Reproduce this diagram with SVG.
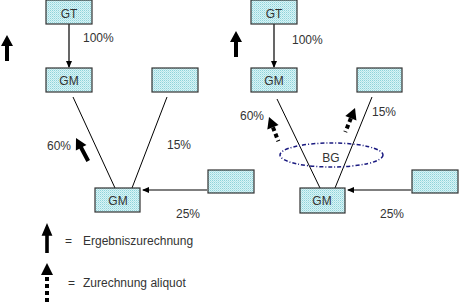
<svg xmlns="http://www.w3.org/2000/svg" width="459" height="303" viewBox="0 0 459 303">
<defs>
<pattern id="dots" width="2" height="2" patternUnits="userSpaceOnUse">
<rect width="2" height="2" fill="#d8f4f6"/>
<rect width="1" height="1" fill="#8fd3da"/>
<rect x="1" y="1" width="1" height="1" fill="#b5e3e8"/>
</pattern>
<marker id="ah" markerWidth="7" markerHeight="6" refX="6" refY="3" orient="auto" markerUnits="userSpaceOnUse">
<path d="M0,0 L7,3 L0,6 Z" fill="#000"/>
</marker>
<g id="solidArrow">
<path d="M0,0 L6,11 L2,11 L2,26 L-2,26 L-2,11 L-6,11 Z" fill="#000"/>
</g>
<g id="dashArrow">
<path d="M0,0 L6,11 L-6,11 Z" fill="#000"/>
<line x1="0" y1="11" x2="0" y2="26" stroke="#000" stroke-width="4" stroke-dasharray="4 3"/>
</g>
</defs>
<style>
.box{fill:url(#dots);stroke:#333;stroke-width:1.2}
.t{font-family:"Liberation Sans",Arial,sans-serif;font-size:12px;fill:#333}
.c{text-anchor:middle}
.ln{stroke:#000;stroke-width:1;fill:none}
.ar{stroke:#000;stroke-width:1.2;fill:none;marker-end:url(#ah)}
</style>

<g id="connectors">
<line class="ar" x1="69" y1="24" x2="69" y2="67"/>
<line class="ln" x1="73" y1="97" x2="115" y2="188"/>
<line class="ln" x1="167" y1="97" x2="132" y2="188"/>
<line class="ar" x1="207" y1="190" x2="143" y2="190"/>
<line class="ar" x1="274" y1="24" x2="274" y2="67"/>
<line class="ln" x1="277" y1="99" x2="320" y2="188"/>
<line class="ln" x1="372" y1="97" x2="335" y2="188"/>
<line class="ar" x1="411" y1="190" x2="348" y2="190"/>
</g>

<g id="left-GT"><rect class="box" x="46" y="0" width="46" height="24"/><text class="t c" x="69" y="18">GT</text></g>
<g id="left-GM-top"><rect class="box" x="46" y="68" width="46" height="24"/><text class="t c" x="69" y="85">GM</text></g>
<g id="left-blank-top"><rect class="box" x="152" y="68" width="46" height="24"/></g>
<g id="left-GM-bottom"><rect class="box" x="95" y="188" width="45" height="24"/><text class="t c" x="118" y="205">GM</text></g>
<g id="left-blank-right"><rect class="box" x="208" y="170" width="46" height="23"/></g>

<g id="right-GT"><rect class="box" x="251" y="0" width="46" height="24"/><text class="t c" x="274" y="18">GT</text></g>
<g id="right-GM-top"><rect class="box" x="251" y="68" width="46" height="24"/><text class="t c" x="274" y="85">GM</text></g>
<g id="right-blank-top"><rect class="box" x="357" y="68" width="45" height="24"/></g>
<g id="right-GM-bottom"><rect class="box" x="300" y="188" width="45" height="25"/><text class="t c" x="322" y="205">GM</text></g>
<g id="right-blank-right"><rect class="box" x="412" y="170" width="46" height="23"/></g>

<g id="BG">
<ellipse cx="331.5" cy="155" rx="51.5" ry="12" fill="none" stroke="#1a1a80" stroke-width="1.5" stroke-dasharray="4 2 1 2"/>
<text class="t c" x="331" y="162">BG</text>
</g>

<g id="labels">
<text class="t" x="83" y="42">100%</text>
<text class="t" x="47" y="150">60%</text>
<text class="t" x="167" y="149">15%</text>
<text class="t" x="176" y="218">25%</text>
<text class="t" x="292" y="44">100%</text>
<text class="t" x="240" y="120">60%</text>
<text class="t" x="372" y="116">15%</text>
<text class="t" x="380" y="218">25%</text>
</g>

<g id="arrows">
<use href="#solidArrow" transform="translate(7,35)"/>
<use href="#solidArrow" transform="translate(236,31)"/>
<use href="#solidArrow" transform="translate(76,138) rotate(-28)"/>
<use href="#dashArrow" transform="translate(269,117) rotate(-21)"/>
<use href="#dashArrow" transform="translate(355,108) rotate(22)"/>
</g>

<g id="legend">
<use href="#solidArrow" transform="translate(47,223) scale(0.9,1.15)"/>
<text class="t" x="65" y="245">=</text>
<text class="t" x="83" y="245">Ergebniszurechnung</text>
<path d="M47,263 L53,275 L41,275 Z" fill="#000"/>
<line x1="47" y1="277" x2="47" y2="303" stroke="#000" stroke-width="4" stroke-dasharray="4 3"/>
<text class="t" x="68" y="287">=</text>
<text class="t" x="83" y="287">Zurechnung aliquot</text>
</g>
</svg>
